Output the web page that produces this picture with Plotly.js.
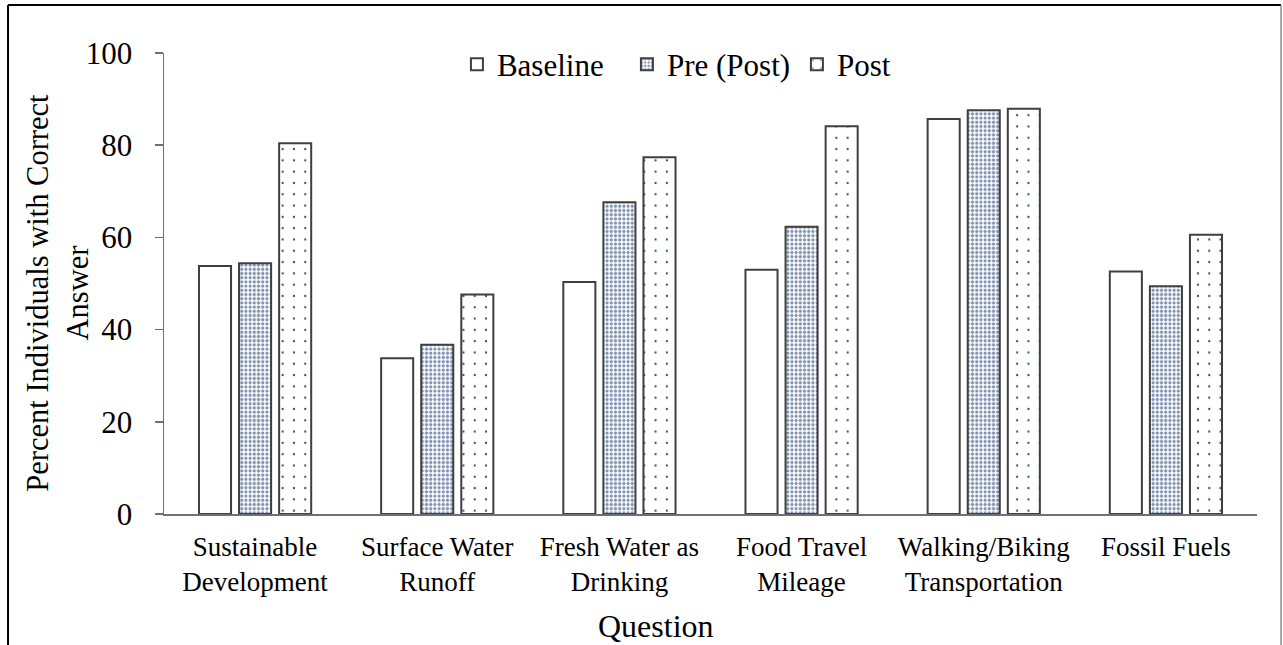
<!DOCTYPE html>
<html>
<head>
<meta charset="utf-8">
<script src="https://cdn.plot.ly/plotly-3.0.1.min.js"></script>
<style>
  html, body { margin: 0; padding: 0; background: #ffffff; }
  #chart { width: 1283px; height: 645px; }
</style>
</head>
<body>
<div id="chart"></div>
<script>
// Survey questions (category axis)
const questions = [
  "Sustainable<br>Development",
  "Surface Water<br>Runoff",
  "Fresh Water as<br>Drinking",
  "Food Travel<br>Mileage",
  "Walking/Biking<br>Transportation",
  "Fossil Fuels"
];

// Percent of individuals answering correctly
const baseline = [53.8, 33.8, 50.3, 53.0, 85.7, 52.6];
const prePost  = [54.4, 36.7, 67.6, 62.3, 87.6, 49.4];
const post     = [80.4, 47.6, 77.4, 84.1, 87.9, 60.6];

const yTicks = [0, 20, 40, 60, 80, 100];

const FONT = "Liberation Serif";
const outline = { color: "#3f3f3f", width: 2 };

const traces = [
  {
    type: "bar", name: "Baseline", x: questions, y: baseline,
    marker: { color: "#ffffff", line: outline }
  },
  {
    type: "bar", name: "Pre (Post)", x: questions, y: prePost,
    marker: {
      color: "#ffffff", line: outline,
      pattern: { shape: ".", size: 4.2, solidity: 0.45, fgcolor: "#8193b0", bgcolor: "#ffffff", fillmode: "replace" }
    }
  },
  {
    type: "bar", name: "Post", x: questions, y: post,
    marker: {
      color: "#ffffff", line: outline,
      pattern: { shape: ".", size: 11.3, solidity: 0.03, fgcolor: "#3d4866", bgcolor: "#ffffff", fillmode: "replace" }
    }
  }
];

// Outer frame around the figure
const frame = [
  { type: "line", xref: "paper", yref: "paper", x0: -0.1427, x1: -0.1427, y0: 1.1042, y1: -0.32, line: { color: "#000000", width: 2 } },
  { type: "line", xref: "paper", yref: "paper", x0: -0.1427, x1: 1.022, y0: 1.1042, y1: 1.1042, line: { color: "#000000", width: 2 } },
  { type: "line", xref: "paper", yref: "paper", x0: 1.022, x1: 1.022, y0: 1.1042, y1: -0.32, line: { color: "#8c8c8c", width: 1.5 } }
];

// Axis titles placed as free text
const titles = [
  {
    text: "Percent Individuals with Correct<br>Answer", textangle: -90,
    xref: "paper", yref: "paper", x: -0.097, y: 0.48, xanchor: "center", yanchor: "middle",
    showarrow: false, font: { family: FONT, size: 30.5, color: "#000000" }
  },
  {
    text: "Question",
    xref: "paper", yref: "paper", x: 0.45, y: -0.243, xanchor: "center", yanchor: "middle",
    showarrow: false, font: { family: FONT, size: 32, color: "#000000" }
  }
];

const layout = {
  width: 1283, height: 645,
  margin: { l: 164, r: 26, t: 53, b: 131 },
  paper_bgcolor: "#ffffff", plot_bgcolor: "#ffffff",
  font: { family: FONT, color: "#000000", size: 27 },
  barmode: "group", bargap: 0.34, bargroupgap: 0.2,
  showlegend: true,
  legend: {
    orientation: "h", x: 0.268, xanchor: "left", y: 0.975, yanchor: "middle",
    entrywidth: 125, entrywidthmode: "pixels",
    font: { family: FONT, size: 31, color: "#000000" },
    bgcolor: "rgba(0,0,0,0)", traceorder: "normal"
  },
  xaxis: {
    type: "category",
    showline: true, linecolor: "#707070", linewidth: 1.5,
    ticks: "", showgrid: false, zeroline: false,
    tickfont: { family: FONT, size: 27, color: "#000000" },
    ticklabelstandoff: 8,
    automargin: false
  },
  yaxis: {
    range: [0, 100], tickvals: yTicks, ticktext: yTicks.map(String),
    showline: true, linecolor: "#707070", linewidth: 1.5,
    ticks: "outside", ticklen: 8, tickwidth: 1.5, tickcolor: "#707070",
    showgrid: false, zeroline: false,
    tickfont: { family: FONT, size: 31, color: "#000000" },
    ticklabelstandoff: 16,
    automargin: false
  },
  annotations: titles,
  shapes: frame
};

Plotly.newPlot("chart", traces, layout, { displayModeBar: false, staticPlot: true });
</script>
</body>
</html>
